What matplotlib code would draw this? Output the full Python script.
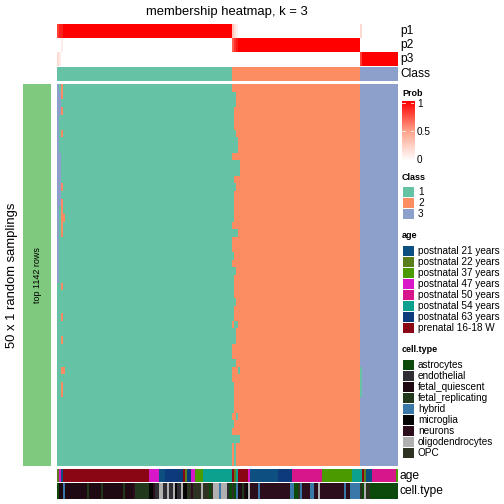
import numpy as np
import matplotlib
matplotlib.use("Agg")
import matplotlib.pyplot as plt
from matplotlib.colors import ListedColormap, LinearSegmentedColormap

plt.rcParams['font.family'] = ['Liberation Sans', 'DejaVu Sans']

# ---- data ----
n_rows = 50
class_sizes = [87, 64, 19]
class_colors = ["#66c2a5", "#fc8d62", "#8da0cb"]

p1 = [0.8, 0.9, 0.9] + [1.0] * 84 + [0.3, 0.15, 0.08] + [0.0] * 61 + [0.2] + [0.0] * 18
p2 = [0.0, 0.0, 0.1] + [0.0] * 84 + [0.7, 0.85, 0.92] + [1.0] * 61 + [0.0] * 19
p3 = [0.2, 0.1, 0.0] + [0.0] * 84 + [0.0] * 64 + [0.8] + [1.0] * 18

# samplings that disagree with the consensus: (row_from, row_to, col_from, col_to, class)
deviations = [
    (0, 25, 0, 0, 3), (9, 15, 0, 1, 3), (1, 3, 0, 1, 3),
    (0, 0, 2, 2, 2), (1, 1, 2, 2, 2), (3, 3, 2, 2, 2), (6, 6, 2, 2, 2),
    (13, 13, 2, 2, 2), (15, 16, 2, 2, 2), (17, 17, 2, 3, 2), (18, 19, 2, 2, 2),
    (26, 26, 2, 2, 2), (30, 30, 2, 2, 2), (33, 33, 2, 2, 2), (37, 37, 2, 3, 2),
    (39, 40, 2, 2, 2),
    (1, 2, 87, 88, 1), (3, 3, 87, 87, 1), (4, 5, 87, 87, 1), (6, 6, 87, 88, 1),
    (7, 8, 87, 89, 1), (10, 11, 87, 90, 1), (12, 12, 87, 87, 1), (13, 13, 87, 88, 1),
    (14, 17, 87, 87, 1), (19, 19, 87, 89, 1), (22, 22, 87, 87, 1), (24, 24, 87, 88, 1),
    (25, 27, 87, 87, 1), (28, 28, 87, 88, 1), (29, 30, 87, 87, 1), (31, 31, 88, 89, 1),
    (32, 33, 87, 88, 1), (36, 36, 87, 88, 1), (37, 37, 90, 90, 1), (39, 42, 87, 87, 1),
    (43, 43, 89, 89, 1), (44, 44, 87, 87, 1), (46, 46, 87, 90, 1), (47, 49, 88, 88, 1),
    (37, 40, 151, 151, 1),
]

age_levels = ["postnatal 21 years", "postnatal 22 years", "postnatal 37 years",
              "postnatal 47 years", "postnatal 50 years", "postnatal 54 years",
              "postnatal 63 years", "prenatal 16-18 W"]
age_colors = ["#0d4f80", "#5a7f1a", "#4a9a00", "#d818c8", "#d6168a", "#0ca08e",
              "#0d3a7a", "#8b0615"]
age_runs = [
    ("postnatal 22 years", 1), ("postnatal 47 years", 1), ("postnatal 21 years", 1),
    ("prenatal 16-18 W", 43), ("postnatal 47 years", 5), ("postnatal 21 years", 3),
    ("postnatal 63 years", 9), ("prenatal 16-18 W", 1), ("postnatal 22 years", 1),
    ("postnatal 63 years", 2), ("postnatal 47 years", 2), ("postnatal 37 years", 4),
    ("postnatal 54 years", 14),
    ("prenatal 16-18 W", 1), ("postnatal 22 years", 1), ("postnatal 54 years", 1),
    ("prenatal 16-18 W", 5), ("postnatal 47 years", 1), ("postnatal 21 years", 14),
    ("postnatal 63 years", 7), ("postnatal 50 years", 15), ("postnatal 37 years", 15),
    ("postnatal 54 years", 4),
    ("postnatal 54 years", 1), ("prenatal 16-18 W", 1), ("postnatal 22 years", 1),
    ("postnatal 21 years", 3), ("postnatal 50 years", 12), ("postnatal 37 years", 1),
]

cell_levels = ["astrocytes", "endothelial", "fetal_quiescent", "fetal_replicating",
               "hybrid", "microglia", "neurons", "oligodendrocytes", "OPC"]
cell_colors = ["#0b4a0b", "#2d2d33", "#1e0812", "#22381c", "#3a78aa", "#050505",
               "#2c0d1c", "#b0b0b0", "#2d3223"]
cell_runs = [
    ("astrocytes", 1), ("fetal_quiescent", 2), ("hybrid", 1), ("fetal_quiescent", 11),
    ("fetal_replicating", 1), ("fetal_quiescent", 6), ("fetal_replicating", 1),
    ("fetal_quiescent", 10), ("fetal_replicating", 1), ("fetal_quiescent", 4),
    ("neurons", 1), ("fetal_replicating", 7),
    ("microglia", 2), ("neurons", 1), ("endothelial", 2), ("oligodendrocytes", 2),
    ("endothelial", 2), ("oligodendrocytes", 1), ("endothelial", 2), ("oligodendrocytes", 1),
    ("microglia", 1), ("endothelial", 2), ("oligodendrocytes", 1),
    ("microglia", 2), ("OPC", 2), ("neurons", 1), ("OPC", 2),
    ("OPC", 2), ("oligodendrocytes", 1), ("OPC", 3), ("astrocytes", 1), ("OPC", 1),
    ("oligodendrocytes", 3), ("hybrid", 1), ("oligodendrocytes", 3), ("endothelial", 1),
    ("astrocytes", 1),
    ("OPC", 1), ("astrocytes", 1), ("hybrid", 1), ("fetal_quiescent", 2),
    ("fetal_replicating", 1), ("fetal_quiescent", 1), ("microglia", 1),
    ("oligodendrocytes", 1), ("neurons", 4), ("hybrid", 1), ("neurons", 4),
    ("neurons", 11), ("hybrid", 2), ("astrocytes", 2), ("OPC", 1), ("hybrid", 1),
    ("neurons", 4), ("hybrid", 2), ("neurons", 2), ("oligodendrocytes", 1),
    ("neurons", 12), ("hybrid", 1), ("neurons", 2), ("hybrid", 5),
    ("OPC", 1), ("astrocytes", 1), ("oligodendrocytes", 1), ("OPC", 2),
    ("astrocytes", 14),
]

# ---- build matrices ----
cls = np.repeat([1, 2, 3], class_sizes)
membership = np.tile(cls, (n_rows, 1))
for r0, r1, c0, c1, k in deviations:
    membership[r0:r1 + 1, c0:c1 + 1] = k

age = [age_levels.index(a) for a, n in age_runs for _ in range(n)]
cell = [cell_levels.index(c) for c, n in cell_runs for _ in range(n)]

W = H = 504
fig = plt.figure(figsize=(7, 7), dpi=72)


def box(x0, y0, x1, y1):
    ax = fig.add_axes([x0 / W, 1 - y1 / H, (x1 - x0) / W, (y1 - y0) / H])
    ax.set_axis_off()
    return ax


prob_cmap = LinearSegmentedColormap.from_list("prob", ["#ffffff", "#ffa28a", "#ff0000"])
class_cmap = ListedColormap(class_colors)

for vals, (y0, y1) in zip([p1, p2, p3], [(24, 38), (38, 52), (52, 66)]):
    ax = box(57, y0, 397, y1)
    ax.imshow(np.array(vals)[None, :], aspect='auto', interpolation='nearest',
              cmap=prob_cmap, vmin=0, vmax=1)

ax = box(57, 67, 397, 81)
ax.imshow(cls[None, :], aspect='auto', interpolation='nearest', cmap=class_cmap, vmin=1, vmax=3)

ax = box(57, 84, 397, 466)
ax.imshow(membership, aspect='auto', interpolation='nearest', cmap=class_cmap, vmin=1, vmax=3)

ax = box(23, 84, 51, 466)
ax.imshow([[0]], aspect='auto', cmap=ListedColormap(["#7fc97f"]))

ax = box(57, 469, 397, 482)
ax.imshow(np.array(age)[None, :], aspect='auto', interpolation='nearest',
          cmap=ListedColormap(age_colors), vmin=0, vmax=len(age_levels) - 1)

ax = box(57, 483, 397, 499)
ax.imshow(np.array(cell)[None, :], aspect='auto', interpolation='nearest',
          cmap=ListedColormap(cell_colors), vmin=0, vmax=len(cell_levels) - 1)

# colour bar for Prob
ax = box(402, 101, 414, 161)
ax.imshow(np.linspace(1, 0, 100)[:, None], aspect='auto', cmap=prob_cmap, vmin=0, vmax=1,
          extent=[0, 1, 0, 1])
for v in [1.0, 0.5]:
    yv = (v * 56 + 2) / 60
    ax.plot([0, 0.25], [yv, yv], color='white', lw=0.8)
    ax.plot([0.75, 1], [yv, yv], color='white', lw=0.8)
ax.set_xlim(0, 1)
ax.set_ylim(0, 1)

# text overlay
ov = fig.add_axes([0, 0, 1, 1])
ov.set_xlim(0, W)
ov.set_ylim(H, 0)
ov.set_axis_off()

ov.text(227, 12, "membership heatmap, k = 3", ha='center', va='center', fontsize=13)
for lab, y in [("p1", 31), ("p2", 45), ("p3", 59), ("Class", 74), ("age", 476), ("cell.type", 491)]:
    ov.text(400, y, lab, ha='left', va='center', fontsize=12)
ov.text(12, 275, "50 x 1 random samplings", rotation=90, ha='center', va='center', fontsize=13)
ov.text(37, 275, "top 1142 rows", rotation=90, ha='center', va='center', fontsize=9)

ov.text(402, 93, "Prob", ha='left', va='center', fontsize=9, fontweight='bold')
for lab, y in [("1", 104), ("0.5", 132), ("0", 160)]:
    ov.text(417, y, lab, ha='left', va='center', fontsize=10)


def legend_block(title, ty, labels, colors, y_first):
    ov.text(402, ty, title, ha='left', va='center', fontsize=9, fontweight='bold')
    for i, (lab, col) in enumerate(zip(labels, colors)):
        yc = y_first + 11 * i
        ov.add_patch(plt.Rectangle((403, yc - 5), 11, 10, facecolor=col, edgecolor='none'))
        ov.text(418, yc, lab, ha='left', va='center', fontsize=10)


legend_block("Class", 177, ["1", "2", "3"], class_colors, 192)
legend_block("age", 236, age_levels, age_colors, 251)
legend_block("cell.type", 350, cell_levels, cell_colors, 365)

fig.savefig("out.png", dpi=72)
